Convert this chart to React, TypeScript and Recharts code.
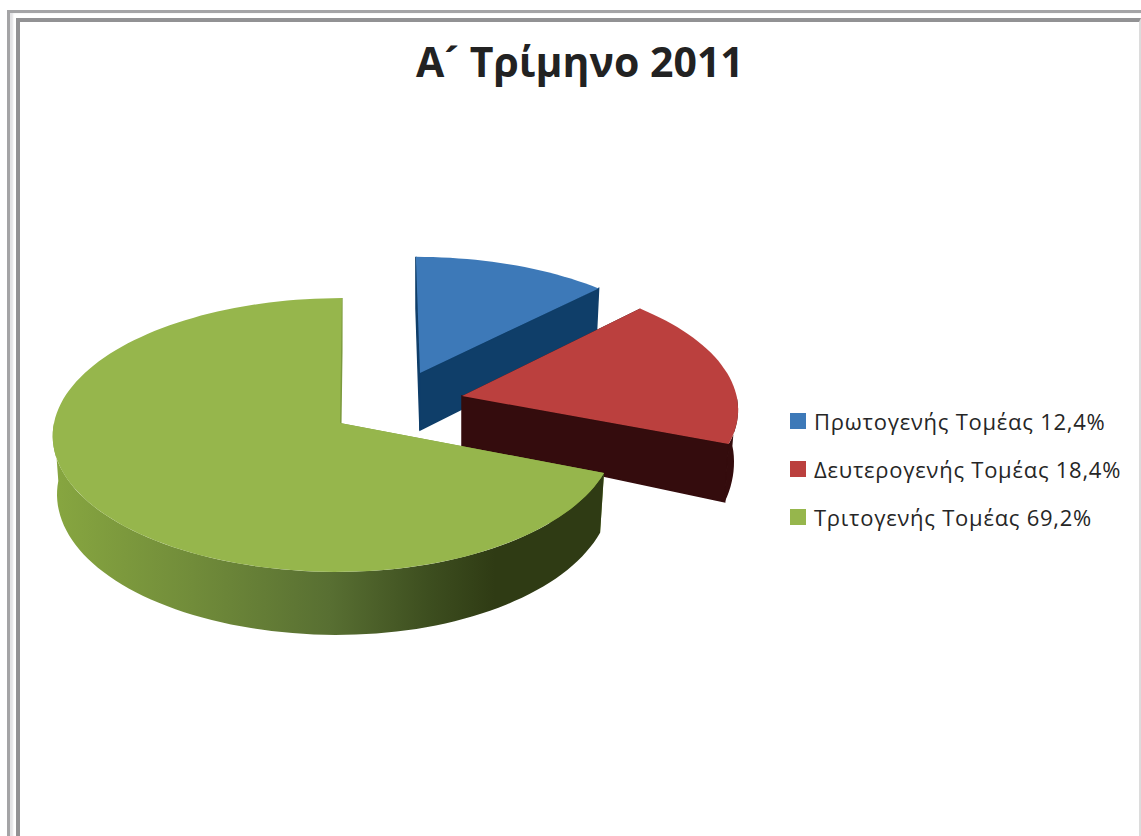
import { PieChart, Pie, Cell, Legend } from 'recharts';

const SECTORS = ['Πρωτογενής Τομέας', 'Δευτερογενής Τομέας', 'Τριτογενής Τομέας'];
const SHARES = [12.4, 18.4, 69.2];
const TITLE = 'Α´ Τρίμηνο 2011';

const TOP_COLORS = ['#3d79b8', '#bb403e', '#96b64c'];
const SIDE_COLORS = ['#0f3e69', '#340c0d', 'url(#rimGreen)'];
const EDGE_COLORS = ['#0f3e69', '#340c0d', '#7c9a3e'];

// how far each wedge is pulled out of the pie, and how it sits in the tilted view
const EXPLODE = [
  { dx: 80, dy: -50, squash: 0.93, depth: 57, lean: 5, shear: 0.035 },
  { dx: 122, dy: -27, squash: 0.96, depth: 50, lean: 22, shear: 0.04 },
  { dx: 0, dy: 0, squash: 1, depth: 58, lean: 5, shear: -0.015 },
];

const FONT = '"Open Sans", sans-serif';
const chartData = SECTORS.map((name, i) => ({ name, value: SHARES[i] }));

// perspective of the tilted disc
const TILT = 0.475;
const PERSPECTIVE = 0.0876;
const RIGHT_SHRINK = 0.96;
const BOTTOM_SHRINK = 0.985;

const Slice3D = (props: any) => {
  const { cx, cy, outerRadius, startAngle, endAngle, name } = props;
  const i = SECTORS.indexOf(name);
  const { dx, dy, squash, depth, lean, shear } = EXPLODE[i];
  const ox = cx + dx;
  const oy = cy + dy;

  const project = (theta: number, down = false) => {
    const rad = (theta * Math.PI) / 180;
    const u = Math.sin(rad);
    const v = Math.cos(rad);
    const w = 1 + PERSPECTIVE * v;
    const rx = outerRadius * (u >= 0 ? RIGHT_SHRINK : 1);
    const ry = (outerRadius * TILT * squash * v) / w;
    return [
      ox + ((rx * u) / w - shear * ry) * (down ? BOTTOM_SHRINK : 1),
      oy - ry + (down ? depth - lean * v : 0),
    ];
  };
  const apex = [ox, oy];
  const apexDown = [ox, oy + depth];

  const from = 90 - startAngle;
  const to = 90 - endAngle;
  const arc = (a: number, b: number, down = false) => {
    const pts = [];
    const n = Math.max(2, Math.ceil(Math.abs(b - a) / 2));
    for (let k = 0; k <= n; k++) pts.push(project(a + ((b - a) * k) / n, down));
    return pts;
  };
  const toPath = (pts: number[][]) => 'M' + pts.map((p) => `${p[0].toFixed(1)},${p[1].toFixed(1)}`).join('L') + 'Z';

  const rimFrom = Math.max(from, 90);
  const rimTo = Math.min(to, 270);
  const side = SIDE_COLORS[i];
  const edge = EDGE_COLORS[i];

  return (
    <g>
      <defs>
        <linearGradient id="rimGreen" gradientUnits="userSpaceOnUse" x1="55" y1="0" x2="605" y2="0">
          <stop offset="0" stopColor="#87a640" />
          <stop offset="0.25" stopColor="#718c3a" />
          <stop offset="0.5" stopColor="#586f32" />
          <stop offset="0.68" stopColor="#3d4e1f" />
          <stop offset="0.8" stopColor="#2f3b14" />
          <stop offset="1" stopColor="#2f3b14" />
        </linearGradient>
      </defs>
      {/* cut faces */}
      <path
        d={toPath([apex, project(from), project(from, true), apexDown])}
        fill={edge}
        stroke={i === 0 ? edge : 'none'}
        strokeWidth={1.5}
      />
      <path d={toPath([apex, project(to), project(to, true), apexDown])} fill={edge} stroke={edge} strokeWidth={1.5} />
      {/* outer rim, only the part facing us */}
      {rimTo > rimFrom && (
        <path d={toPath([...arc(rimFrom, rimTo), ...arc(rimTo, rimFrom, true)])} fill={side} />
      )}
      <path d={toPath([apex, ...arc(from, to)])} fill={TOP_COLORS[i]} />
    </g>
  );
};

const LegendList = ({ payload }: any) => (
  <div style={{ fontFamily: FONT, fontSize: 22, color: '#262626', letterSpacing: 0.75 }}>
    {(payload || []).map((item: any) => (
      <div key={item.value} style={{ display: 'flex', alignItems: 'center', height: 48 }}>
        <span style={{ width: 16, height: 16, background: item.color, marginRight: 8 }} />
        <span style={{ whiteSpace: 'nowrap' }}>
          {item.value} {String(SHARES[SECTORS.indexOf(item.value)]).replace('.', ',')}%
        </span>
      </div>
    ))}
  </div>
);

export default function App() {
  return (
    <div style={{ position: 'absolute', left: 0, top: 0, width: 1141, height: 836, overflow: 'hidden', background: '#fff' }}>
      {/* double frame of the pasted picture */}
      <div
        style={{
          position: 'absolute',
          left: 7,
          top: 10,
          width: 1200,
          height: 1000,
          borderLeft: '3px solid #a4a4a6',
          borderTop: '3px solid #a4a4a6',
          boxShadow: 'inset 3px 0 2px #e2e2e4',
        }}
      />
      <div style={{ position: 'absolute', left: 16, top: 18, width: 1119, height: 1000, borderLeft: '4px solid #929294', borderTop: '4px solid #929294', borderRight: '2px solid #dcdcdc' }} />
      <div
        style={{
          position: 'absolute',
          left: 416,
          top: 34,
          fontFamily: FONT,
          fontWeight: 700,
          fontSize: 41,
          lineHeight: '54px',
          color: '#222',
          whiteSpace: 'nowrap',
        }}
      >
        {TITLE}
      </div>
      <div style={{ position: 'absolute', left: 0, top: 0 }}>
        <PieChart width={1141} height={836} margin={{ top: 0, right: 0, bottom: 0, left: 0 }}>
          <Pie
            data={chartData}
            dataKey="value"
            nameKey="name"
            cx={340}
            cy={423}
            outerRadius={286}
            startAngle={90}
            endAngle={-270}
            stroke="none"
            legendType="square"
            isAnimationActive={false}
            shape={Slice3D}
          >
            {chartData.map((d, i) => (
              <Cell key={d.name} fill={TOP_COLORS[i]} />
            ))}
          </Pie>
          <Legend
            content={<LegendList />}
            itemSorter={null}
            wrapperStyle={{ position: 'absolute', left: 790, top: 397, width: 350, bottom: 'auto', right: 'auto' }}
          />
        </PieChart>
      </div>
    </div>
  );
}
